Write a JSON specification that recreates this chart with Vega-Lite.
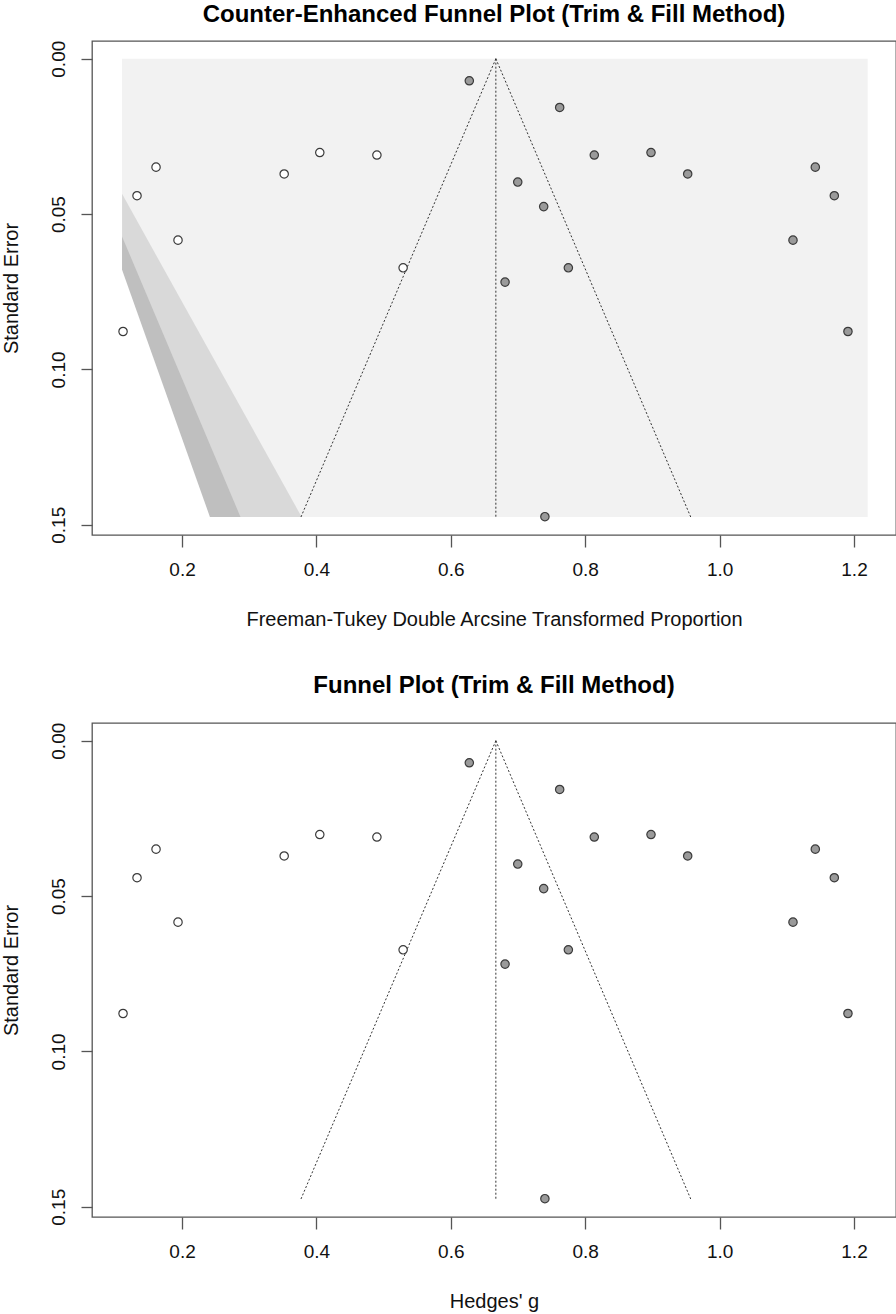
{
  "$schema": "https://vega.github.io/schema/vega-lite/v6.json",
  "padding": {"left": 0, "top": 2, "right": 0, "bottom": 0},
  "background": "white",
  "bounds": "flush",
  "spacing": 188,
  "config": {
    "font": "Liberation Sans",
    "view": {"stroke": "#555555", "strokeWidth": 1.3},
    "axis": {
      "grid": false,
      "domain": false,
      "tickColor": "#555555",
      "tickWidth": 1.3,
      "labelFont": "Liberation Sans",
      "labelFontSize": 19,
      "labelColor": "#111111",
      "labelFlush": false,
      "labelOverlap": false,
      "titleFont": "Liberation Sans",
      "titleFontSize": 20,
      "titleFontWeight": "normal",
      "titleColor": "#111111"
    }
  },
  "datasets": {
    "pts": [
      {"kind": "observed", "x": 0.6275, "se": 0.0071},
      {"kind": "observed", "x": 0.7620, "se": 0.0157},
      {"kind": "observed", "x": 0.8135, "se": 0.0310},
      {"kind": "observed", "x": 0.8979, "se": 0.0302},
      {"kind": "observed", "x": 0.9525, "se": 0.0371},
      {"kind": "observed", "x": 1.1424, "se": 0.0349},
      {"kind": "observed", "x": 1.1707, "se": 0.0441},
      {"kind": "observed", "x": 1.1092, "se": 0.0584},
      {"kind": "observed", "x": 1.1910, "se": 0.0878},
      {"kind": "observed", "x": 0.6996, "se": 0.0397},
      {"kind": "observed", "x": 0.7382, "se": 0.0476},
      {"kind": "observed", "x": 0.7749, "se": 0.0673},
      {"kind": "observed", "x": 0.6807, "se": 0.0719},
      {"kind": "observed", "x": 0.7400, "se": 0.1474},
      {"kind": "filled", "x": 0.1122, "se": 0.0878},
      {"kind": "filled", "x": 0.1330, "se": 0.0441},
      {"kind": "filled", "x": 0.1613, "se": 0.0349},
      {"kind": "filled", "x": 0.1940, "se": 0.0584},
      {"kind": "filled", "x": 0.3520, "se": 0.0371},
      {"kind": "filled", "x": 0.4050, "se": 0.0302},
      {"kind": "filled", "x": 0.4900, "se": 0.0310},
      {"kind": "filled", "x": 0.5290, "se": 0.0673}
    ],
    "funnel": [
      {"line": "left", "x": 0.667, "se": 0},
      {"line": "left", "x": 0.377, "se": 0.1475},
      {"line": "right", "x": 0.667, "se": 0},
      {"line": "right", "x": 0.957, "se": 0.1475},
      {"line": "mid", "x": 0.667, "se": 0},
      {"line": "mid", "x": 0.667, "se": 0.1475}
    ],
    "shade": [
      {"x": 0.1107, "xe": 1.2204, "se": 0, "se2": 0.1475}
    ],
    "contour": [
      {"band": "p05", "se": 0.0435, "x": 0.1107, "xe": 0.1107},
      {"band": "p05", "se": 0.1475, "x": 0.1107, "xe": 0.378},
      {"band": "p10", "se": 0.0572, "x": 0.1107, "xe": 0.1107},
      {"band": "p10", "se": 0.1475, "x": 0.1107, "xe": 0.287},
      {"band": "ns", "se": 0.0679, "x": 0.108, "xe": 0.1107},
      {"band": "ns", "se": 0.1478, "x": 0.108, "xe": 0.242}
    ]
  },
  "vconcat": [
    {
      "width": 804,
      "height": 494,
      "title": {
        "text": "Counter-Enhanced Funnel Plot (Trim & Fill Method)",
        "font": "Liberation Sans",
        "fontSize": 24,
        "fontWeight": "bold",
        "color": "#000000",
        "anchor": "middle",
        "baseline": "alphabetic",
        "offset": -6
      },
      "encoding": {
        "x": {
          "field": "x", "type": "quantitative",
          "scale": {"domain": [0.066, 1.2625], "nice": false, "zero": false},
          "axis": {
            "title": "Freeman-Tukey Double Arcsine Transformed Proportion",
            "values": [0.2, 0.4, 0.6, 0.8, 1.0, 1.2],
            "format": ".1f",
            "tickSize": 12,
            "labelBaseline": "alphabetic",
            "labelPadding": 28,
            "titleBaseline": "alphabetic",
            "titleY": 90
          }
        },
        "y": {
          "field": "se", "type": "quantitative",
          "scale": {"domain": [-0.0057, 0.1533], "nice": false, "zero": false, "reverse": true},
          "axis": {
            "title": "Standard Error",
            "values": [0, 0.05, 0.1, 0.15],
            "format": ".2f",
            "tickSize": 11,
            "labelAngle": 270,
            "labelAlign": "center",
            "labelBaseline": "alphabetic",
            "labelPadding": 17,
            "titleAngle": 270,
            "titleBaseline": "middle",
            "titleX": -81,
            "titleY": 247
          }
        }
      },
      "layer": [
        {
          "data": {"name": "shade"},
          "mark": {"type": "rect", "color": "#F2F2F2"},
          "encoding": {"x2": {"field": "xe"}, "y2": {"field": "se2"}}
        },
        {
          "data": {"name": "contour"},
          "transform": [{"filter": "datum.band == 'p05'"}],
          "mark": {"type": "area", "orient": "horizontal", "color": "#D9D9D9", "opacity": 1},
          "encoding": {"x2": {"field": "xe"}}
        },
        {
          "data": {"name": "contour"},
          "transform": [{"filter": "datum.band == 'p10'"}],
          "mark": {"type": "area", "orient": "horizontal", "color": "#BFBFBF", "opacity": 1},
          "encoding": {"x2": {"field": "xe"}}
        },
        {
          "data": {"name": "contour"},
          "transform": [{"filter": "datum.band == 'ns'"}],
          "mark": {"type": "area", "orient": "horizontal", "color": "#FFFFFF", "opacity": 1},
          "encoding": {"x2": {"field": "xe"}}
        },
        {
          "data": {"name": "funnel"},
          "mark": {"type": "line", "color": "#333333", "strokeWidth": 1, "strokeDash": [2, 2]},
          "encoding": {"detail": {"field": "line"}, "order": {"field": "se", "type": "quantitative"}}
        },
        {
          "data": {"name": "pts"},
          "mark": {"type": "point", "shape": "circle", "filled": true, "size": 70, "opacity": 1, "stroke": "#3a3a3a", "strokeWidth": 1.2},
          "encoding": {
            "fill": {"field": "kind", "type": "nominal", "scale": {"domain": ["observed", "filled"], "range": ["#9a9a9a", "#ffffff"]}, "legend": null}
          }
        }
      ]
    },
    {
      "width": 804,
      "height": 494,
      "title": {
        "text": "Funnel Plot (Trim & Fill Method)",
        "font": "Liberation Sans",
        "fontSize": 24,
        "fontWeight": "bold",
        "color": "#000000",
        "anchor": "middle",
        "baseline": "alphabetic",
        "offset": 5
      },
      "encoding": {
        "x": {
          "field": "x", "type": "quantitative",
          "scale": {"domain": [0.066, 1.2625], "nice": false, "zero": false},
          "axis": {
            "title": "Hedges' g",
            "values": [0.2, 0.4, 0.6, 0.8, 1.0, 1.2],
            "format": ".1f",
            "tickSize": 12,
            "labelBaseline": "alphabetic",
            "labelPadding": 28,
            "titleBaseline": "alphabetic",
            "titleY": 90
          }
        },
        "y": {
          "field": "se", "type": "quantitative",
          "scale": {"domain": [-0.0057, 0.1533], "nice": false, "zero": false, "reverse": true},
          "axis": {
            "title": "Standard Error",
            "values": [0, 0.05, 0.1, 0.15],
            "format": ".2f",
            "tickSize": 11,
            "labelAngle": 270,
            "labelAlign": "center",
            "labelBaseline": "alphabetic",
            "labelPadding": 17,
            "titleAngle": 270,
            "titleBaseline": "middle",
            "titleX": -81,
            "titleY": 247
          }
        }
      },
      "layer": [
        {
          "data": {"name": "funnel"},
          "mark": {"type": "line", "color": "#333333", "strokeWidth": 1, "strokeDash": [2, 2]},
          "encoding": {"detail": {"field": "line"}, "order": {"field": "se", "type": "quantitative"}}
        },
        {
          "data": {"name": "pts"},
          "mark": {"type": "point", "shape": "circle", "filled": true, "size": 70, "opacity": 1, "stroke": "#3a3a3a", "strokeWidth": 1.2},
          "encoding": {
            "fill": {"field": "kind", "type": "nominal", "scale": {"domain": ["observed", "filled"], "range": ["#9a9a9a", "#ffffff"]}, "legend": null}
          }
        }
      ]
    }
  ]
}
